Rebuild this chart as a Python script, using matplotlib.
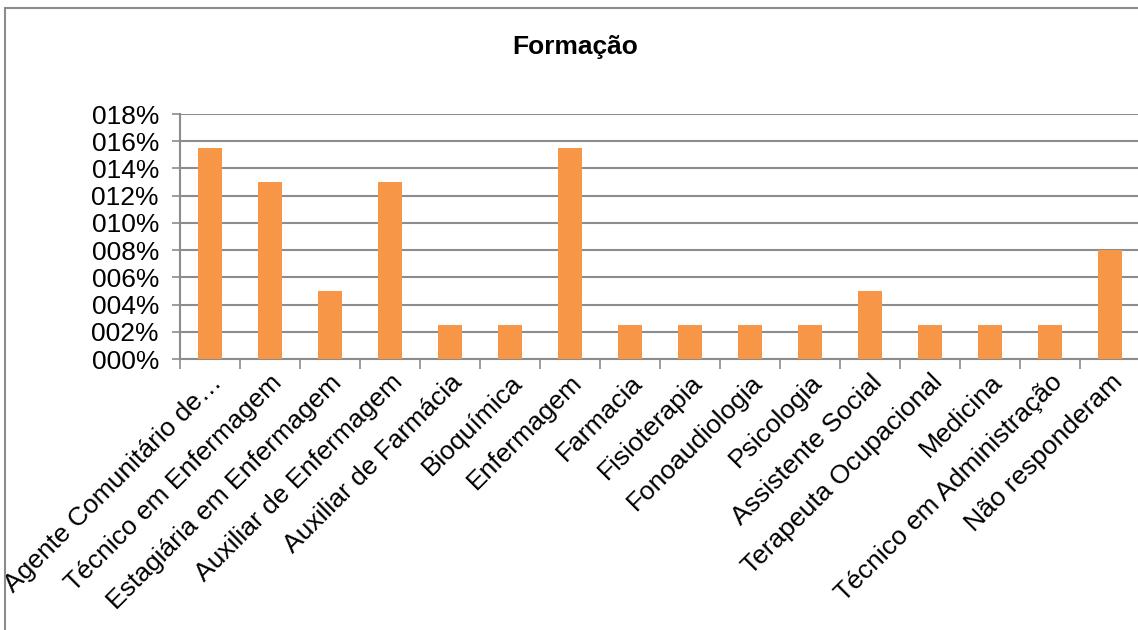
import matplotlib.pyplot as plt
import numpy as np
from matplotlib.patches import Rectangle
from matplotlib.ticker import FuncFormatter

plt.rcParams["font.family"] = ["Liberation Sans", "DejaVu Sans"]

categorias = [
    "Agente Comunitário de…",
    "Técnico em Enfermagem",
    "Estagiária em Enfermagem",
    "Auxiliar de Enfermagem",
    "Auxiliar de Farmácia",
    "Bioquímica",
    "Enfermagem",
    "Farmacia",
    "Fisioterapia",
    "Fonoaudiologia",
    "Psicologia",
    "Assistente Social",
    "Terapeuta Ocupacional",
    "Medicina",
    "Técnico em Administração",
    "Não responderam",
]
valores = [0.155, 0.13, 0.05, 0.13, 0.025, 0.025, 0.155, 0.025,
           0.025, 0.025, 0.025, 0.05, 0.025, 0.025, 0.025, 0.08]

grid_cor = "#8c8c8c"

fig = plt.figure(figsize=(11.38, 6.3), dpi=100)
ax = fig.add_axes([0.158, 0.430, 0.844, 0.389])

x = np.arange(len(categorias))
ax.bar(x, valores, width=0.4, color="#F79646", zorder=3)

ax.set_xlim(-0.5, len(categorias) - 0.5)
ax.set_ylim(0, 0.18)
ax.set_yticks(np.arange(0, 0.181, 0.02))
ax.yaxis.set_major_formatter(FuncFormatter(lambda v, p: f"{round(v * 100):03d}%"))
ax.tick_params(axis="y", labelsize=19, length=6, width=1.2, color=grid_cor, pad=9)
ax.yaxis.grid(True, color=grid_cor, linewidth=1.5, zorder=0)

ax.set_xticks(np.arange(-0.5, len(categorias), 1.0))
ax.set_xticklabels([])
ax.tick_params(axis="x", which="major", length=7, width=1.2, color=grid_cor)
ax.set_xticks(x, minor=True)
ax.set_xticklabels(categorias, minor=True, rotation=45, ha="right",
                   rotation_mode="anchor", fontsize=19)
ax.tick_params(axis="x", which="minor", length=0, pad=8)

for s in ["top", "right"]:
    ax.spines[s].set_visible(False)
for s in ["left", "bottom"]:
    ax.spines[s].set_color(grid_cor)
    ax.spines[s].set_linewidth(1.5)

fig.text(0.505, 0.925, "Formação", ha="center", va="center",
         fontsize=19, fontweight="bold")

fig.patches.append(Rectangle((0.004, -0.01), 1.0, 0.997, transform=fig.transFigure,
                             fill=False, edgecolor="#8c8c8c", linewidth=1.5))

fig.savefig("out.png", dpi=100)
